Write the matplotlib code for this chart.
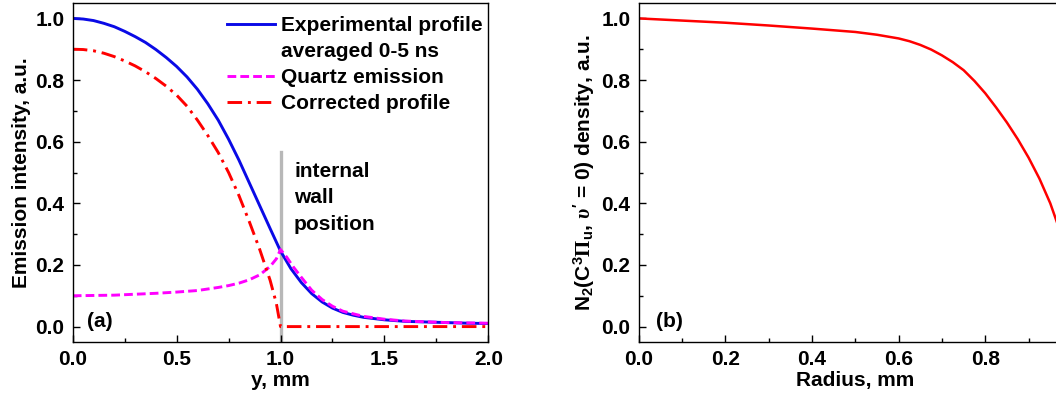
import matplotlib
matplotlib.use("Agg")
import matplotlib.pyplot as plt
from matplotlib.ticker import MultipleLocator

# Шрифти як в оригіналі (жирний Arial-подібний)
plt.rcParams['font.family'] = ['Liberation Sans', 'DejaVu Sans']
plt.rcParams['font.weight'] = 'bold'
plt.rcParams['axes.labelweight'] = 'bold'
plt.rcParams['mathtext.fontset'] = 'custom'
plt.rcParams['mathtext.rm'] = 'Liberation Sans:bold'
plt.rcParams['mathtext.bf'] = 'Liberation Sans:bold'
plt.rcParams['mathtext.it'] = 'Liberation Serif:italic'
plt.rcParams['mathtext.sf'] = 'Liberation Serif'

# (a) профілі випромінювання
y_mm = [0.00, 0.05, 0.10, 0.15, 0.20, 0.25, 0.30, 0.35, 0.40, 0.45, 0.50, 0.55, 0.60, 0.65,
        0.70, 0.75, 0.80, 0.85, 0.90, 0.95, 1.00, 1.05, 1.10, 1.15, 1.20, 1.25, 1.30, 1.35,
        1.40, 1.50, 1.60, 1.70, 1.80, 1.90, 2.00]
experimental = [1.000, 0.998, 0.993, 0.984, 0.973, 0.958, 0.941, 0.922, 0.899, 0.873, 0.844,
                0.810, 0.770, 0.723, 0.670, 0.608, 0.540, 0.466, 0.392, 0.318, 0.245, 0.188,
                0.143, 0.107, 0.080, 0.060, 0.046, 0.037, 0.030, 0.022, 0.017, 0.015, 0.013,
                0.011, 0.010]

quartz_x = [0.00, 0.10, 0.20, 0.30, 0.40, 0.50, 0.60, 0.70, 0.75, 0.80, 0.85, 0.90, 0.95, 0.98,
            1.00, 1.03, 1.06, 1.10, 1.15, 1.20, 1.25, 1.30, 1.40, 1.50, 1.60, 1.80, 2.00]
quartz = [0.100, 0.101, 0.102, 0.105, 0.108, 0.112, 0.117, 0.127, 0.133, 0.141, 0.152, 0.168,
          0.195, 0.220, 0.250, 0.225, 0.195, 0.160, 0.118, 0.088, 0.066, 0.050, 0.033, 0.024,
          0.018, 0.013, 0.011]

corrected_x = [0.00, 0.05, 0.10, 0.15, 0.20, 0.25, 0.30, 0.35, 0.40, 0.45, 0.50, 0.55, 0.60,
               0.65, 0.70, 0.75, 0.80, 0.85, 0.90, 0.95, 0.98, 1.00, 2.00]
corrected = [0.900, 0.899, 0.895, 0.887, 0.876, 0.862, 0.846, 0.827, 0.805, 0.780, 0.751, 0.715,
             0.670, 0.620, 0.565, 0.500, 0.425, 0.340, 0.250, 0.150, 0.075, 0.000, 0.000]

wall_x = 1.0
wall_top = 0.565

# (b) радіальний профіль густини
radius = [0.0, 0.1, 0.2, 0.3, 0.4, 0.5, 0.55, 0.6, 0.625, 0.65, 0.675, 0.7, 0.725, 0.75, 0.775,
          0.8, 0.825, 0.85, 0.875, 0.9, 0.925, 0.95, 0.975, 1.0]
density = [1.000, 0.993, 0.986, 0.977, 0.967, 0.956, 0.947, 0.935, 0.926, 0.914, 0.899, 0.880,
           0.858, 0.832, 0.797, 0.757, 0.711, 0.662, 0.608, 0.548, 0.480, 0.400, 0.300, 0.180]

fig = plt.figure(figsize=(10.56, 4.0), dpi=100)
ax1 = fig.add_axes([0.0689, 0.145, 0.3935, 0.8475])
ax2 = fig.add_axes([0.6048, 0.145, 0.4103, 0.8475])

fs = 15

ax1.plot([wall_x, wall_x], [-0.05, wall_top], color='#b8b8b8', lw=2.4, zorder=1.5)
ax1.plot(y_mm, experimental, color='#0a0ae6', lw=2.1, label='Experimental profile')
ax1.plot([], [], color='none', label='averaged 0-5 ns')
ax1.plot(quartz_x, quartz, color='#ff00ff', lw=2.1, dashes=(3.0, 1.4), label='Quartz emission')
ax1.plot(corrected_x, corrected, color='#ff0000', lw=2.1, dashes=(5.0, 2.0, 1.0, 2.0),
         label='Corrected profile')

ax1.set_xlim(0, 2.0)
ax1.set_ylim(-0.05, 1.05)
ax1.xaxis.set_major_locator(MultipleLocator(0.5))
ax1.xaxis.set_minor_locator(MultipleLocator(0.25))
ax1.set_xlabel('y, mm', fontsize=fs, labelpad=1)
ax1.set_ylabel('Emission intensity, a.u.', fontsize=fs, labelpad=3)
ax1.text(0.07, 0.015, '(a)', fontsize=fs, va='center', ha='left')
ax1.text(1.065, 0.535, 'internal\nwall\nposition', fontsize=fs, va='top', ha='left',
         linespacing=1.5)
ax1.legend(loc='upper left', bbox_to_anchor=(0.371, 0.962), frameon=False, fontsize=fs,
           handlelength=2.3, handletextpad=0.3, labelspacing=0.34, borderpad=0,
           borderaxespad=0)

ax2.plot(radius, density, color='#ff0000', lw=1.8)
ax2.set_xlim(0, 1.0)
ax2.set_ylim(-0.05, 1.05)
ax2.set_xticks([0.0, 0.2, 0.4, 0.6, 0.8])
ax2.xaxis.set_minor_locator(MultipleLocator(0.1))
ax2.set_xlabel('Radius, mm', fontsize=fs, labelpad=1)
ax2.set_ylabel(r"N$_2$(C$^3$$\mathsf{\Pi}_\mathrm{u}$, $\upsilon'$ = 0) density, a.u.",
               fontsize=fs, labelpad=3)
ax2.text(0.04, 0.015, '(b)', fontsize=fs, va='center', ha='left')

for ax in (ax1, ax2):
    ax.yaxis.set_major_locator(MultipleLocator(0.2))
    ax.yaxis.set_minor_locator(MultipleLocator(0.1))
    ax.tick_params(which='both', direction='in', top=False, right=False,
                   labelsize=fs, width=1.0)
    ax.tick_params(which='major', length=5, pad=6)
    ax.tick_params(which='minor', length=3)
    for s in ax.spines.values():
        s.set_linewidth(1.0)

plt.savefig('out.png', dpi=100)
